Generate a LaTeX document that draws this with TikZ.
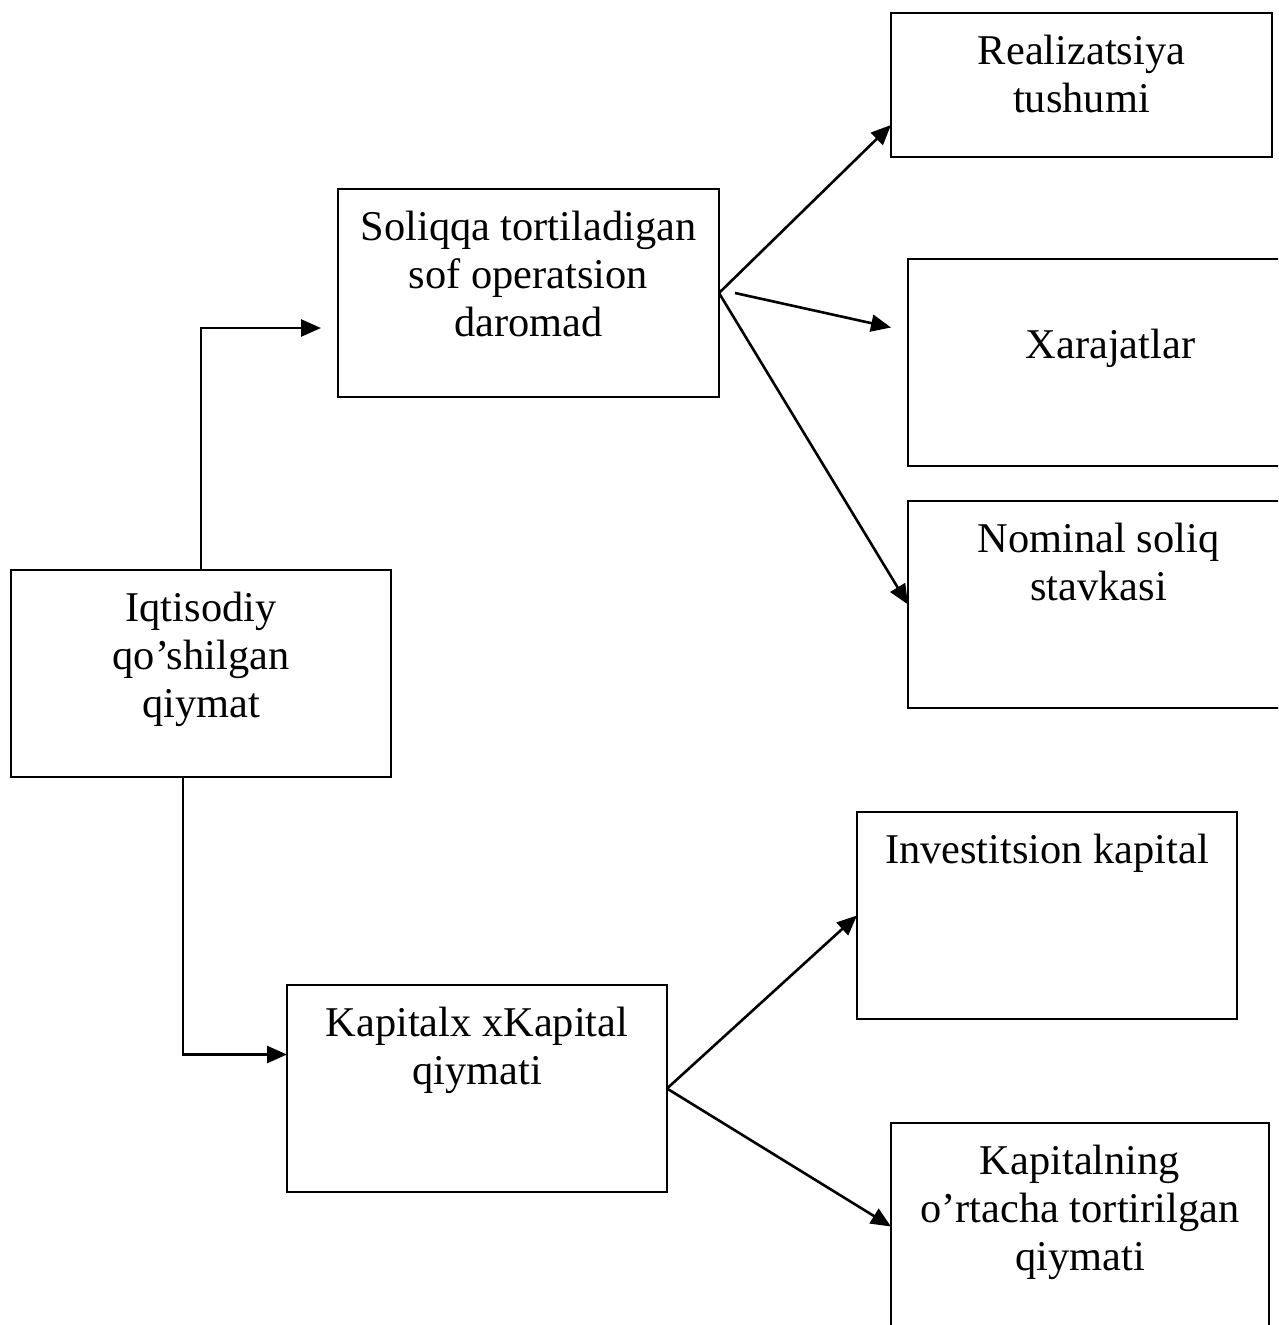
\documentclass[tikz,border=0pt]{standalone}
\usepackage{fontspec}
\setmainfont{Liberation Serif}
\usetikzlibrary{arrows.meta,calc}
\newcommand\boxtext[3]{\parbox[c][#2pt][t]{#1pt}{\centering\fontsize{42.4pt}{48pt}\selectfont\rule{0pt}{51pt}#3}}
\begin{document}
\begin{tikzpicture}[x=1pt,y=-1pt,
  box/.style={draw,line width=2.6pt,inner sep=0pt,outer sep=0pt,anchor=north west},
  conn/.style={line width=2.6pt,-{Triangle[length=20pt,width=17pt]}}]
\useasboundingbox (0,0) rectangle (1278,1325);
\clip (0,0) rectangle (1278,1325);
\node[box] (S) at (338,189) {\boxtext{381}{208}{Soliqqa tortiladigan\\sof operatsion\\daromad}};
\node[box] (R) at (891,13) {\boxtext{381}{144}{Realizatsiya\\tushumi}};
\node[box] (X) at (908,259) {\boxtext{400}{207}{\\\hspace*{24pt}\hspace*{-19pt}Xarajatlar}};
\node[box] (N) at (908,501) {\boxtext{400}{207}{\hspace*{-19pt}Nominal soliq\\\hspace*{-19pt}stavkasi}};
\node[box] (I) at (11,570) {\boxtext{380}{207}{Iqtisodiy\\qo’shilgan\\qiymat}};
\node[box] (V) at (857,812) {\boxtext{380}{207}{Investitsion kapital}};
\node[box] (K) at (287,985) {\boxtext{380}{207}{Kapitalx xKapital\\qiymati}};
\node[box] (W) at (891,1123) {\boxtext{378}{207}{Kapitalning\\o’rtacha tortirilgan\\qiymati}};
\draw[conn] (S.east) -- ($(R.south west)+(0,-32)$);
\draw[conn] ($(S.east)+(16,0)$) -- ($(X.west)+(-17,-35)$);
\draw[conn] (S.east) -- (N.west);
\draw[conn] (I.north) |- ($(S.west)+(-17,35)$);
\draw[conn] ($(I.south)+(-18,0)$) |- ($(K.west)+(0,-34)$);
\draw[conn] (K.east) -- (V.west);
\draw[conn] (K.east) -- (W.west);
\end{tikzpicture}
\end{document}
